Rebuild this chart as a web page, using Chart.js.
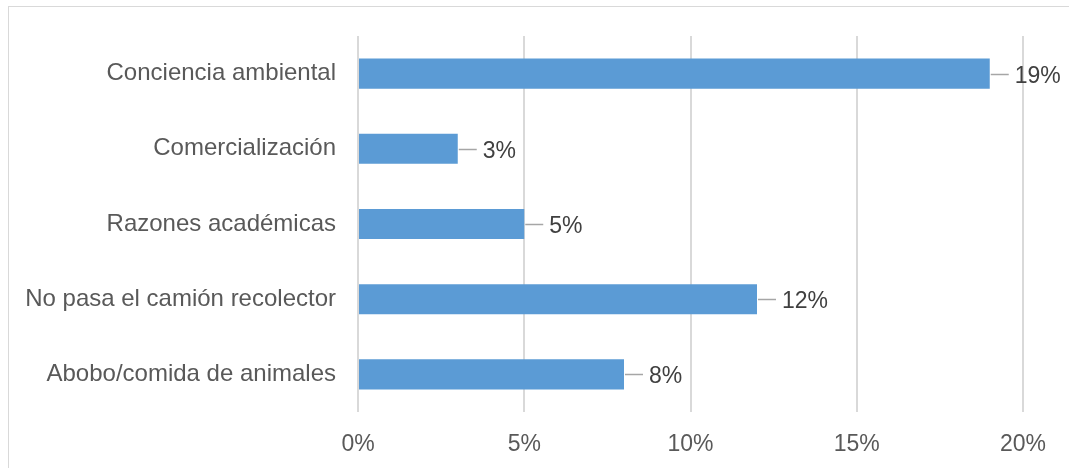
<!DOCTYPE html>
<html>
<head>
<meta charset="utf-8">
<script src="https://cdn.jsdelivr.net/npm/chart.js@4.4.1/dist/chart.umd.min.js"></script>
<style>
  html, body { margin: 0; padding: 0; background: #fff; }
  #wrap { position: relative; width: 1069px; height: 468px; overflow: hidden; }
  #frame { position: absolute; left: 8px; top: 6px; width: 1100px; height: 500px; border: 1px solid #d9d9d9; box-sizing: border-box; }
  canvas { position: absolute; left: 0; top: 0; }
</style>
</head>
<body>
<div id="wrap">
  <div id="frame"></div>
  <canvas id="grafica" width="1069" height="468"></canvas>
</div>
<script>
const categorias = [
  'Conciencia ambiental',
  'Comercialización',
  'Razones académicas',
  'No pasa el camión recolector',
  'Abobo/comida de animales'
]
const porcentajes = [19, 3, 5, 12, 8]
const ticksX = [0, 5, 10, 15, 20]

const fuente = '"Liberation Sans", Arial, Helvetica, sans-serif'

// etiquetas con línea guía al final de cada barra
const etiquetas = {
  id: 'etiquetas',
  afterDatasetsDraw(chart) {
    const ctx = chart.ctx
    const meta = chart.getDatasetMeta(0)
    ctx.save()
    ctx.font = '23px ' + fuente
    ctx.textBaseline = 'middle'
    ctx.textAlign = 'left'
    meta.data.forEach((bar, i) => {
      const x = bar.x
      const y = Math.round(bar.y) + 0.5
      ctx.strokeStyle = '#a6a6a6'
      ctx.lineWidth = 1.5
      ctx.beginPath()
      ctx.moveTo(x + 1, y)
      ctx.lineTo(x + 19, y)
      ctx.stroke()
      ctx.fillStyle = '#404040'
      ctx.fillText(porcentajes[i] + '%', x + 25, y + 2)
    })
    ctx.restore()
  }
}

new Chart(document.getElementById('grafica'), {
  type: 'bar',
  data: {
    labels: categorias,
    datasets: [{
      data: porcentajes,
      backgroundColor: '#5b9bd5',
      borderWidth: 0,
      categoryPercentage: 0.8,
      barPercentage: 0.5
    }]
  },
  options: {
    indexAxis: 'y',
    responsive: false,
    animation: false,
    layout: { padding: { top: 36, right: 46, left: 0, bottom: 0 } },
    plugins: {
      legend: { display: false },
      tooltip: { enabled: false }
    },
    scales: {
      x: {
        min: 0,
        max: 20,
        afterBuildTicks: scale => { scale.ticks = ticksX.map(v => ({ value: v })) },
        afterFit: scale => { scale.height = 56 },
        border: { display: false },
        grid: { color: '#d9d9d9', lineWidth: 2, drawTicks: false },
        ticks: {
          padding: 19,
          color: '#595959',
          font: { family: fuente, size: 23 },
          callback: v => v + '%'
        }
      },
      y: {
        afterFit: scale => { scale.width = 358 },
        border: { display: false },
        grid: { display: false },
        ticks: {
          padding: 14,
          color: '#595959',
          font: { family: fuente, size: 24 }
        }
      }
    }
  },
  plugins: [etiquetas]
})
</script>
</body>
</html>
